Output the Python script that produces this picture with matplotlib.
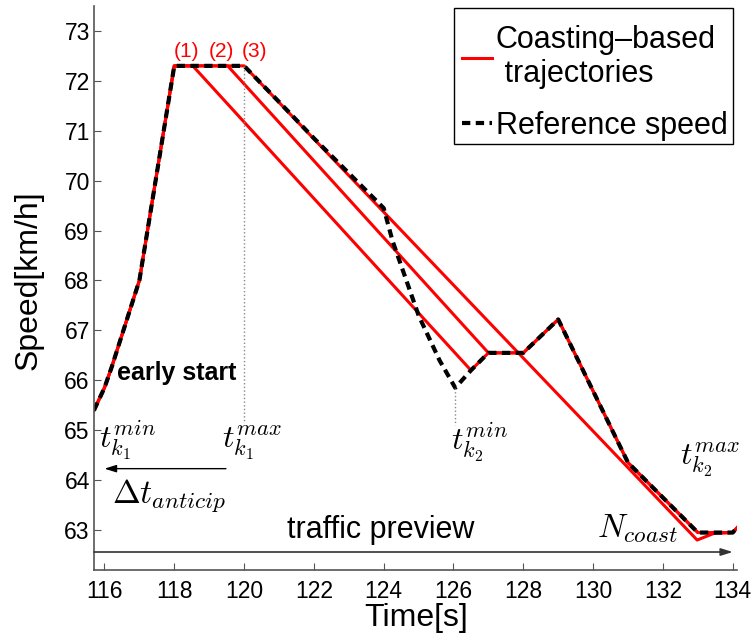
import matplotlib
matplotlib.use('Agg')
import matplotlib.pyplot as plt
from matplotlib.patches import Rectangle

plt.rcParams['font.family'] = ['Liberation Sans', 'DejaVu Sans']
plt.rcParams['mathtext.fontset'] = 'cm'

# reference speed profile (time [s], speed [km/h])
ref_t = [115.7, 116.0, 116.2, 117.0, 118.0, 120.0, 121.0, 122.0, 123.0, 124.0,
         124.25, 125.0, 125.6, 126.05, 126.5, 127.0, 128.0, 129.0, 131.0, 133.0,
         134.0, 134.13]
ref_v = [65.4, 65.85, 66.25, 68.0, 72.3, 72.3, 71.58, 70.85, 70.15, 69.45,
         68.8, 67.3, 66.4, 65.85, 66.2, 66.55, 66.55, 67.22, 64.35, 62.95,
         62.95, 63.05]

# coasting-based trajectories
traj1_t = [115.7, 116.0, 116.2, 117.0, 118.0, 118.53, 126.5, 127.0, 128.0, 129.0,
           131.0, 133.0, 134.0, 134.13]
traj1_v = [65.4, 65.85, 66.25, 68.0, 72.3, 72.3, 66.2, 66.55, 66.55, 67.22,
           64.35, 62.95, 62.95, 63.05]
traj2_t = [115.7, 116.0, 116.2, 117.0, 118.0, 119.53, 127.0, 128.0, 129.0,
           131.0, 133.0, 134.0, 134.13]
traj2_v = [65.4, 65.85, 66.25, 68.0, 72.3, 72.3, 66.55, 66.55, 67.22,
           64.35, 62.95, 62.95, 63.05]
traj3_t = [115.7, 116.0, 116.2, 117.0, 118.0, 120.0, 132.98, 133.45, 134.0, 134.13]
traj3_v = [65.4, 65.85, 66.25, 68.0, 72.3, 72.3, 62.8, 62.93, 62.95, 63.05]

xticks = [116, 118, 120, 122, 124, 126, 128, 130, 132, 134]
yticks = [63, 64, 65, 66, 67, 68, 69, 70, 71, 72, 73]

fig = plt.figure(figsize=(7.55, 6.35), dpi=100)
ax = fig.add_axes([0.1245, 0.1024, 0.852, 0.8882])

red = '#ff0000'
ax.plot(traj1_t, traj1_v, color=red, lw=2.2, label='Coasting\u2013based\n trajectories')
ax.plot(traj2_t, traj2_v, color=red, lw=2.2)
ax.plot(traj3_t, traj3_v, color=red, lw=2.2)
ax.plot(ref_t, ref_v, color='black', lw=3, dashes=(2, 1.3), dash_capstyle='butt',
        label='Reference speed')

# dotted markers for the time windows
ax.plot([120.0, 120.0], [72.3, 65.15], color='#888888', lw=1, ls=':')
ax.plot([126.05, 126.05], [65.85, 65.1], color='#888888', lw=1, ls=':')

# labels of the trajectories
for txt, x in [('(1)', 118.34), ('(2)', 119.34), ('(3)', 120.29)]:
    ax.text(x, 72.58, txt, color=red, fontsize=15, ha='center', va='center')

ax.text(116.37, 66.15, 'early start', fontsize=18, fontweight='bold', va='center')

ax.text(115.83, 64.65, r'$t_{k_1}^{min}$', fontsize=23, va='baseline')
ax.text(119.38, 64.65, r'$t_{k_1}^{max}$', fontsize=23, va='baseline')
ax.text(116.23, 63.55, r'$\Delta t_{anticip}$', fontsize=24, va='baseline')
ax.text(125.92, 64.61, r'$t_{k_2}^{min}$', fontsize=23, va='baseline')
ax.text(132.5, 64.31, r'$t_{k_2}^{max}$', fontsize=23, va='baseline')
ax.text(130.1, 62.85, r'$N_{coast}$', fontsize=24, va='baseline')

ax.annotate('', xy=(116.0, 64.23), xytext=(119.48, 64.23),
            arrowprops=dict(arrowstyle='-|>,head_length=0.7,head_width=0.22',
                            color='black', lw=1, shrinkA=0, shrinkB=0))
ax.annotate('', xy=(134.0, 62.56), xytext=(115.7, 62.56),
            arrowprops=dict(arrowstyle='-|>,head_length=0.7,head_width=0.22',
                            color='#333333', lw=1.2, shrinkA=0, shrinkB=0))
ax.text(123.91, 62.85, 'traffic preview', fontsize=22, ha='center', va='baseline')

ax.set_xlim(115.7, 134.13)
ax.set_ylim(62.2, 73.5)
ax.set_xticks(xticks)
ax.set_yticks(yticks)
ax.tick_params(direction='in', length=5, width=0.8, color='#555555',
               labelsize=16.5, labelcolor='black')
ax.tick_params(axis='x', pad=7)
ax.tick_params(axis='y', pad=3)
for s in ['top', 'right']:
    ax.spines[s].set_visible(False)
for s in ['left', 'bottom']:
    ax.spines[s].set_color('#555555')
    ax.spines[s].set_linewidth(1.2)

ax.set_xlabel('Time[s]', fontsize=23, labelpad=0)
ax.set_ylabel('Speed[km/h]', fontsize=23)
ax.yaxis.set_label_coords(-0.078, 0.513)

# legend box drawn by hand (tight frame as in the original figure)
W, H = 755, 635
box = Rectangle((454 / W, 1 - 144 / H), 279 / W, 136 / H, transform=fig.transFigure,
                facecolor='white', edgecolor='black', lw=1, zorder=4.5, clip_on=False)
ax.add_patch(box)

leg = ax.legend(loc='upper left', bbox_to_anchor=(0.5, 0.99), borderaxespad=0,
                fontsize=22, frameon=False, handlelength=0.98,
                handletextpad=0.13, borderpad=0.25, labelspacing=0.7)
leg.set_zorder(5)

fig.canvas.draw()
bb = leg.get_window_extent()
abox = ax.get_window_extent()
dx = 454 - bb.x0
dy = (H - 17) - bb.y1
leg.set_bbox_to_anchor((0.5 + dx / abox.width, 0.99 + dy / abox.height),
                       transform=ax.transAxes)

fig.savefig('out.png', dpi=100)
